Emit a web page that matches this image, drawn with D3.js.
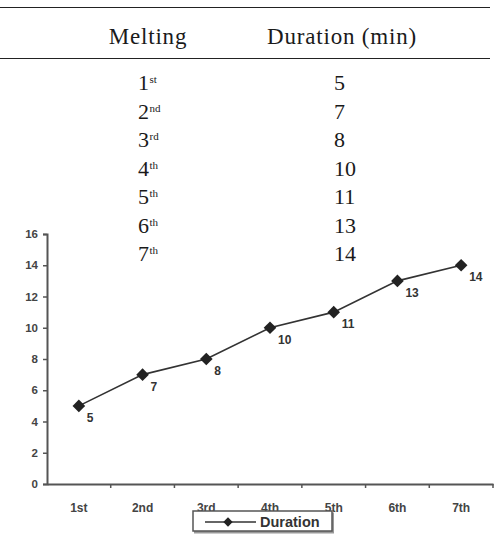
<!DOCTYPE html>
<html>
<head>
<meta charset="utf-8">
<script src="https://cdn.jsdelivr.net/npm/d3@7"></script>
<style>
  body { margin: 0; background: #fff; }
</style>
</head>
<body>
<div id="chart"></div>
<script>
// data
const meltingNum = ["1", "2", "3", "4", "5", "6", "7"];
const meltingSuffix = ["st", "nd", "rd", "th", "th", "th", "th"];
const xLabels = ["1st", "2nd", "3rd", "4th", "5th", "6th", "7th"];
const duration = [5, 7, 8, 10, 11, 13, 14];
const yTicks = [0, 2, 4, 6, 8, 10, 12, 14, 16];
const headers = ["Melting", "Duration (min)"];
const seriesName = "Duration";

const width = 499, height = 552;

const svg = d3.select("#chart").append("svg")
    .attr("width", width)
    .attr("height", height);

// ---- table ----
const serif = "'Liberation Serif', 'Times New Roman', serif";
const table = svg.append("g").attr("fill", "#1a1a1a").style("font-family", serif);

table.append("line").attr("x1", 0).attr("x2", 490).attr("y1", 7.5).attr("y2", 7.5)
    .attr("stroke", "#222").attr("stroke-width", 1.2);
table.append("line").attr("x1", 0).attr("x2", 490).attr("y1", 58.5).attr("y2", 58.5)
    .attr("stroke", "#222").attr("stroke-width", 1.2);

table.selectAll("text.head")
  .data(headers)
  .join("text")
    .attr("class", "head")
    .attr("x", (d, i) => i === 0 ? 148 : 342)
    .attr("y", 44)
    .attr("text-anchor", "middle")
    .style("font-size", "23px")
    .style("letter-spacing", "0.8px")
    .text(d => d);

const rowY = d3.scaleLinear().domain([0, 6]).range([90, 261]);

const rows = table.selectAll("g.row")
  .data(duration)
  .join("g")
    .attr("class", "row");

const left = rows.append("text")
    .attr("x", 138)
    .attr("y", (d, i) => rowY(i))
    .style("font-size", "22px");
left.append("tspan").text((d, i) => meltingNum[i]);
left.append("tspan")
    .attr("dx", 0.5)
    .attr("dy", -7)
    .style("font-size", "11px")
    .text((d, i) => meltingSuffix[i]);

rows.append("text")
    .attr("x", 334)
    .attr("y", (d, i) => rowY(i))
    .style("font-size", "22px")
    .text(d => d);

// ---- chart ----
const sans = "'Liberation Sans', Arial, sans-serif";
const x = d3.scaleBand().domain(xLabels).range([47, 493]);
const y = d3.scaleLinear().domain([0, 16]).range([484, 234]);

const axisColor = "#555";

const yAxis = svg.append("g")
    .attr("transform", "translate(47,0)")
    .call(d3.axisLeft(y).tickValues(yTicks).tickSize(4).tickPadding(5));
yAxis.select(".domain").attr("stroke", axisColor).attr("stroke-width", 2);
yAxis.selectAll(".tick line").attr("stroke", axisColor).attr("stroke-width", 1.5);
yAxis.selectAll(".tick text")
    .attr("fill", "#444")
    .style("font-family", sans)
    .style("font-size", "11.5px")
    .style("font-weight", "bold");

const xAxis = svg.append("g")
    .attr("transform", "translate(0,484)")
    .call(d3.axisBottom(x).tickSize(0).tickPadding(19));
xAxis.select(".domain").attr("stroke", axisColor).attr("stroke-width", 2);
xAxis.selectAll(".tick text")
    .attr("fill", "#444")
    .style("font-family", sans)
    .style("font-size", "12px")
    .style("font-weight", "bold");

// category boundary ticks
svg.append("g").selectAll("line")
  .data(xLabels)
  .join("line")
    .attr("x1", d => x(d) + x.bandwidth())
    .attr("x2", d => x(d) + x.bandwidth())
    .attr("y1", 484)
    .attr("y2", 488)
    .attr("stroke", axisColor)
    .attr("stroke-width", 1.5);

const cx = (d, i) => x(xLabels[i]) + x.bandwidth() / 2;

const line = d3.line()
    .x((d, i) => cx(d, i))
    .y(d => y(d));

svg.append("path")
    .datum(duration)
    .attr("fill", "none")
    .attr("stroke", "#333")
    .attr("stroke-width", 1.6)
    .attr("d", line);

const diamond = d3.symbol().type(d3.symbolSquare).size(80);

svg.append("g").selectAll("path")
  .data(duration)
  .join("path")
    .attr("d", diamond)
    .attr("fill", "#222")
    .attr("transform", (d, i) => `translate(${cx(d, i)},${y(d)}) rotate(45)`);

svg.append("g").selectAll("text")
  .data(duration)
  .join("text")
    .attr("x", (d, i) => cx(d, i) + 8)
    .attr("y", d => y(d) + 16)
    .attr("fill", "#333")
    .style("font-family", sans)
    .style("font-size", "12px")
    .style("font-weight", "bold")
    .text(d => d);

// ---- legend ----
const legend = svg.append("g").attr("transform", "translate(193,511)");
legend.append("rect")
    .attr("x", 1).attr("y", 1.5)
    .attr("width", 140).attr("height", 21)
    .attr("fill", "#999");
legend.append("rect")
    .attr("width", 139).attr("height", 20)
    .attr("fill", "#fff")
    .attr("stroke", "#555")
    .attr("stroke-width", 1.5);
legend.append("line")
    .attr("x1", 12).attr("x2", 63)
    .attr("y1", 11).attr("y2", 11)
    .attr("stroke", "#333").attr("stroke-width", 1.5);
legend.append("path")
    .attr("d", d3.symbol().type(d3.symbolSquare).size(44))
    .attr("fill", "#222")
    .attr("transform", "translate(35,11) rotate(45)");
legend.append("text")
    .attr("x", 67).attr("y", 16)
    .attr("fill", "#333")
    .style("font-family", sans)
    .style("font-size", "14.5px")
    .style("font-weight", "bold")
    .text(seriesName);
</script>
</body>
</html>
